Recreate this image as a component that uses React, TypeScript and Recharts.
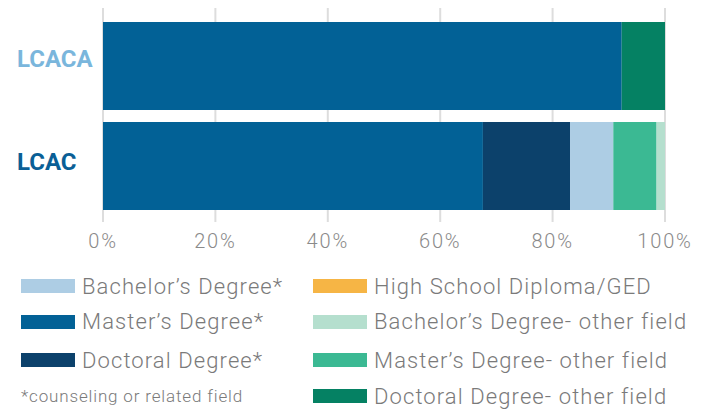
import React from 'react';
import { BarChart, Bar, XAxis, YAxis, CartesianGrid } from 'recharts';

const categories = ['LCACA', 'LCAC'];
const categoryColors = ['#7ab6dc', '#0a5f96'];
const seriesNames = [
  "Master's Degree*",
  "Doctoral Degree*",
  "Bachelor's Degree*",
  "High School Diploma/GED",
  "Master's Degree- other field",
  "Bachelor's Degree- other field",
  "Doctoral Degree- other field",
];
const seriesKeys = ['masters', 'doctoral', 'bachelors', 'highschool', 'mastersOther', 'bachelorsOther', 'doctoralOther'];
const seriesColors = ['#026196', '#0c416b', '#adcde4', '#f6b545', '#3bb993', '#b5dfce', '#058163'];
const masters = [92.3, 67.6];
const doctoral = [0, 15.5];
const bachelors = [0, 7.7];
const highschool = [0, 0];
const mastersOther = [0, 7.7];
const bachelorsOther = [0, 1.5];
const doctoralOther = [7.7, 0];
const xTicks = [0, 20, 40, 60, 80, 100];

const legendLeft = [
  { name: "Bachelor’s Degree*", color: '#adcde4' },
  { name: "Master’s Degree*", color: '#026196' },
  { name: "Doctoral Degree*", color: '#0c416b' },
];
const legendRight = [
  { name: 'High School Diploma/GED', color: '#f6b545' },
  { name: "Bachelor’s Degree- other field", color: '#b5dfce' },
  { name: "Master’s Degree- other field", color: '#3bb993' },
  { name: 'Doctoral Degree- other field', color: '#058163' },
];
const footnote = '*counseling or related field';
const rowCenters = [286, 321.5, 360, 396];

const seriesValues = [masters, doctoral, bachelors, highschool, mastersOther, bachelorsOther, doctoralOther];
const data = categories.map((c, i) => {
  const row: any = { name: c };
  seriesKeys.forEach((k, j) => { row[k] = seriesValues[j][i]; });
  return row;
});

const FONT = 'Roboto, sans-serif';

const YTick = (props: any) => {
  const { y, payload, index } = props;
  return (
    <text x={17} y={y} dy={index === 0 ? 1 : 4} textAnchor="start" fontFamily={FONT} fontWeight={700} fontSize={24} fill={categoryColors[index]}>
      {payload.value}
    </text>
  );
};

const GridLine = (props: any) => {
  const { x1, x2, y1, y2 } = props;
  return <line x1={x1} x2={x2} y1={y1 - 8} y2={y2 + 6} stroke="#dddddd" strokeWidth={2} />;
};

const LegendRow = ({ left, center, color, name }: any) => (
  <div style={{ position: 'absolute', left, top: center - 15, height: 30, display: 'flex', alignItems: 'center', whiteSpace: 'nowrap' }}>
    <span style={{ display: 'inline-block', width: 54, height: 14, background: color, marginRight: 7 }} />
    <span>{name}</span>
  </div>
);

export default function App() {
  return (
    <div style={{ position: 'absolute', left: 0, top: 0, width: 711, height: 412, background: '#fff', overflow: 'hidden' }}>
      <BarChart width={711} height={412} data={data} layout="vertical" barCategoryGap={6}
        margin={{ top: 16, right: 46, left: 0, bottom: 166 }}>
        <CartesianGrid horizontal={false} vertical={GridLine as any} />
        <XAxis type="number" domain={[0, 100]} ticks={xTicks} tickFormatter={(v: number) => `${v}%`}
          axisLine={false} tickLine={false}
          tick={{ fill: '#8a8a8a', fontSize: 20, fontFamily: FONT, fontWeight: 300, letterSpacing: 1.8 } as any}
          tickMargin={12} interval={0} />
        <YAxis type="category" dataKey="name" width={103} axisLine={false} tickLine={false} tick={<YTick />} />
        {seriesKeys.map((k, j) => (
          <Bar key={k} dataKey={k} name={seriesNames[j]} stackId="a" fill={seriesColors[j]} isAnimationActive={false} />
        ))}
      </BarChart>
      <div style={{ position: 'absolute', left: 0, top: 0, width: 711, height: 412, fontFamily: FONT, fontWeight: 300, color: '#7a7a7a', fontSize: 22, letterSpacing: 1.1 }}>
        {legendLeft.map((l, i) => (
          <LegendRow key={l.name} left={21} center={rowCenters[i]} color={l.color} name={l.name} />
        ))}
        <div style={{ position: 'absolute', left: 21, top: rowCenters[3] - 13, height: 26, display: 'flex', alignItems: 'center', fontSize: 17, letterSpacing: 0.85, whiteSpace: 'nowrap' }}>
          {footnote}
        </div>
        {legendRight.map((l, i) => (
          <LegendRow key={l.name} left={313} center={rowCenters[i]} color={l.color} name={l.name} />
        ))}
      </div>
    </div>
  );
}
